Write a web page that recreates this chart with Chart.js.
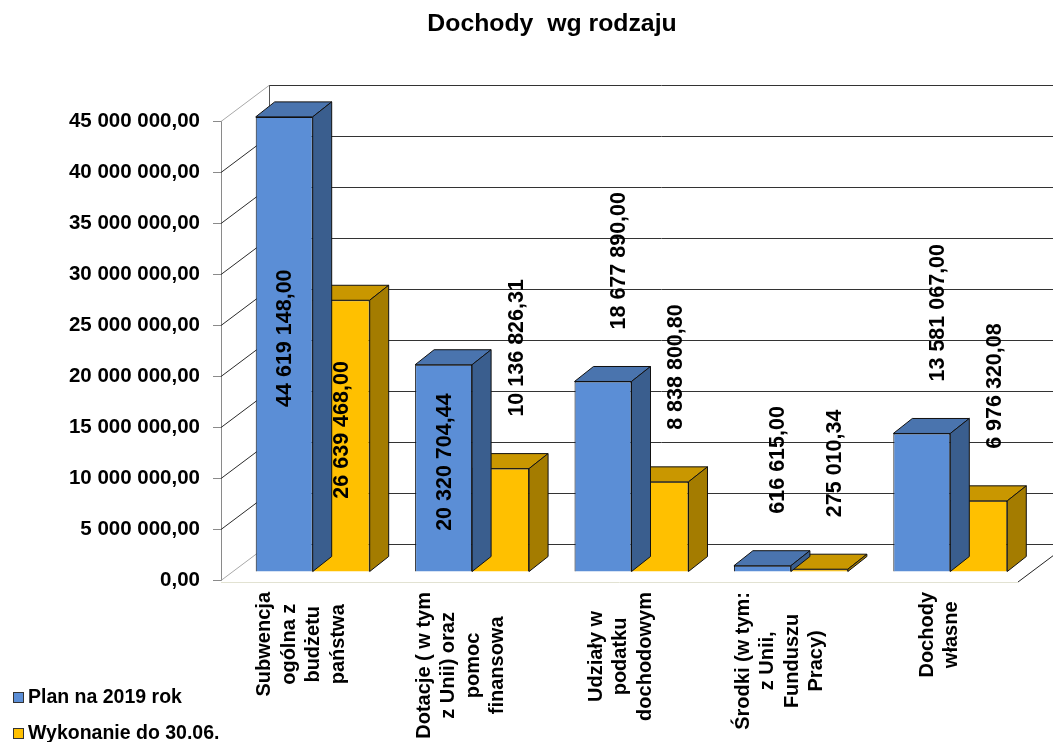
<!DOCTYPE html>
<html>
<head>
<meta charset="utf-8">
<title>Dochody wg rodzaju</title>
<style>
  html, body { margin: 0; padding: 0; background: #fff; }
  canvas { display: block; }
</style>
<script src="https://cdn.jsdelivr.net/npm/chart.js@4/dist/chart.umd.min.js"></script>
</head>
<body>
<canvas id="dochody" width="1053" height="742"></canvas>
<script>
const categories = [
  ["Subwencja", "ogólna z", "budżetu", "państwa"],
  ["Dotacje ( w tym", "z Unii) oraz", "pomoc", "finansowa"],
  ["Udziały w", "podatku", "dochodowym"],
  ["Środki (w tym:", "z Unii,", "Funduszu", "Pracy)"],
  ["Dochody", "własne"],
];
const plan = [44619148.0, 20320704.44, 18677890.0, 616615.0, 13581067.0];
const wykonanie = [26639468.0, 10136826.31, 8838800.8, 275010.34, 6976320.08];
const seriesNames = ["Plan na 2019 rok", "Wykonanie do 30.06."];
const yMax = 45000000;
const yStep = 5000000;
const title = "Dochody  wg rodzaju";

const FONT = "Arial, 'Liberation Sans', sans-serif";
// oblique "3d" offsets
const WALL = { dx: 48, dy: -36 }; // depth of the walls
const SHIFT = { dx: 12, dy: -8 }; // bars front face sits a bit inside
const BAR = { dx: 19, dy: -15 }; // bar depth

// 44619148 -> "44 619 148,00"
function fmt(v) {
  const [i, d] = v.toFixed(2).split(".");
  return i.replace(/\B(?=(\d{3})+(?!\d))/g, " ") + "," + d;
}

function poly(ctx, pts, fill, stroke) {
  ctx.beginPath();
  ctx.moveTo(pts[0][0], pts[0][1]);
  for (let k = 1; k < pts.length; k++) ctx.lineTo(pts[k][0], pts[k][1]);
  ctx.closePath();
  if (fill) { ctx.fillStyle = fill; ctx.fill(); }
  if (stroke) { ctx.strokeStyle = stroke; ctx.stroke(); }
}

function line(ctx, x1, y1, x2, y2, color) {
  ctx.beginPath();
  ctx.moveTo(x1, y1);
  ctx.lineTo(x2, y2);
  ctx.strokeStyle = color;
  ctx.stroke();
}

const box3d = {
  id: "box3d",
  beforeDatasetsDraw(chart) {
    const { ctx, chartArea: a, scales: { y } } = chart;
    ctx.save();
    ctx.lineWidth = 1;
    // side wall diagonals + back wall gridlines
    y.ticks.forEach((t) => {
      const py = Math.round(y.getPixelForValue(t.value)) + 0.5;
      const light = t.value === 0 || t.value === yMax;
      line(ctx, a.left, py, a.left + WALL.dx, py + WALL.dy, light ? "#a8a8a8" : "#2a2a2a");
      line(ctx, a.left + WALL.dx, py + WALL.dy, a.right + WALL.dx + 5, py + WALL.dy, "#333");
    });
    line(ctx, a.left + WALL.dx + 0.5, a.top + WALL.dy, a.left + WALL.dx + 0.5, a.bottom + WALL.dy, "#555");
    // floor edges
    line(ctx, a.left, a.bottom + 2.5, a.right, a.bottom + 2.5, "#e2e2d2");
    line(ctx, a.right, a.bottom + 2, a.right + WALL.dx, a.bottom + 2 + WALL.dy, "#222");
    ctx.restore();

    ctx.save();
    ctx.translate(SHIFT.dx, SHIFT.dy);
  },
  afterDatasetDraw(chart, args) {
    const { ctx } = chart;
    const ds = chart.data.datasets[args.index];
    ctx.save();
    ctx.lineWidth = 1;
    args.meta.data.forEach((bar) => {
      const { x, y, base, width } = bar.getProps(["x", "y", "base", "width"], true);
      const l = x - width / 2, r = x + width / 2;
      poly(ctx, [[l, y], [r, y], [r + BAR.dx, y + BAR.dy], [l + BAR.dx, y + BAR.dy]], ds.topColor, "#111");
      poly(ctx, [[r, y], [r + BAR.dx, y + BAR.dy], [r + BAR.dx, base + BAR.dy], [r, base]], ds.sideColor, "#111");
    });
    ctx.restore();
  },
  afterDatasetsDraw(chart) {
    const { ctx, chartArea: a, scales: { x } } = chart;
    ctx.restore();

    // value labels
    ctx.save();
    ctx.fillStyle = "#000";
    ctx.font = "bold 21.5px " + FONT;
    ctx.textBaseline = "middle";
    chart.data.datasets.forEach((ds, di) => {
      chart.getDatasetMeta(di).data.forEach((bar, i) => {
        const { x: bx, y: by, base } = bar.getProps(["x", "y", "base"], true);
        const inside = base - by > 200;
        ctx.save();
        if (inside) {
          ctx.translate(bx + SHIFT.dx, (by + base) / 2 + SHIFT.dy - 6);
          ctx.textAlign = "center";
        } else {
          ctx.translate(bx + SHIFT.dx + 15, by + SHIFT.dy - 52);
          ctx.textAlign = "left";
        }
        ctx.rotate(-Math.PI / 2);
        ctx.fillText(fmt(ds.data[i]), 0, 1);
        ctx.restore();
      });
    });

    // category labels (rotated, lines centred)
    ctx.font = "bold 20px " + FONT;
    const lh = 24.5;
    categories.forEach((lines, i) => {
      const cx = x.getPixelForValue(i);
      const maxW = Math.max(...lines.map((s) => ctx.measureText(s).width));
      const cy = a.bottom + 12 + maxW / 2;
      lines.forEach((s, k) => {
        ctx.save();
        ctx.translate(cx + (k - (lines.length - 1) / 2) * lh, cy);
        ctx.rotate(-Math.PI / 2);
        ctx.textAlign = "center";
        ctx.fillText(s, 0, 1);
        ctx.restore();
      });
    });

    // legend
    ctx.font = "bold 19.5px " + FONT;
    ctx.textAlign = "left";
    chart.data.datasets.forEach((ds, di) => {
      const ly = 697 + di * 36;
      ctx.fillStyle = ds.backgroundColor;
      ctx.fillRect(13, ly - 5, 10, 10);
      ctx.strokeStyle = "#333";
      ctx.lineWidth = 1;
      ctx.strokeRect(13.5, ly - 4.5, 10, 10);
      ctx.fillStyle = "#000";
      ctx.fillText(ds.label, 28, ly + 1);
    });

    // title
    ctx.font = "bold 24.8px " + FONT;
    ctx.textAlign = "center";
    ctx.fillText(title, 552, 24);
    ctx.restore();
  },
};

new Chart(document.getElementById("dochody"), {
  type: "bar",
  data: {
    labels: categories,
    datasets: [
      {
        label: seriesNames[0],
        data: plan,
        backgroundColor: "#5B8ED6",
        topColor: "#4A74AE",
        sideColor: "#3A5E8E",
        borderColor: "#111",
        borderWidth: 1,
      },
      {
        label: seriesNames[1],
        data: wykonanie,
        backgroundColor: "#FFC000",
        topColor: "#C99700",
        sideColor: "#A47C00",
        borderColor: "#111",
        borderWidth: 1,
      },
    ],
  },
  options: {
    responsive: false,
    devicePixelRatio: 1,
    animation: false,
    clip: false,
    layout: { padding: { left: 0, top: 121, right: 35, bottom: 162 } },
    datasets: { bar: { barPercentage: 1, categoryPercentage: 0.715 } },
    plugins: {
      legend: { display: false },
      tooltip: { enabled: false },
      title: { display: false },
    },
    scales: {
      x: { display: false },
      y: {
        min: 0,
        max: yMax,
        afterFit: (scale) => {
          scale.width = 221;
        },
        border: { display: true, color: "#8a8a8a" },
        grid: { drawOnChartArea: false, drawTicks: true, tickLength: 8, color: "#8a8a8a" },
        ticks: {
          stepSize: yStep,
          padding: 13,
          color: "#000",
          font: { family: FONT, size: 20.5, weight: "bold" },
          callback: (v) => fmt(v),
        },
      },
    },
  },
  plugins: [box3d],
});
</script>
</body>
</html>
